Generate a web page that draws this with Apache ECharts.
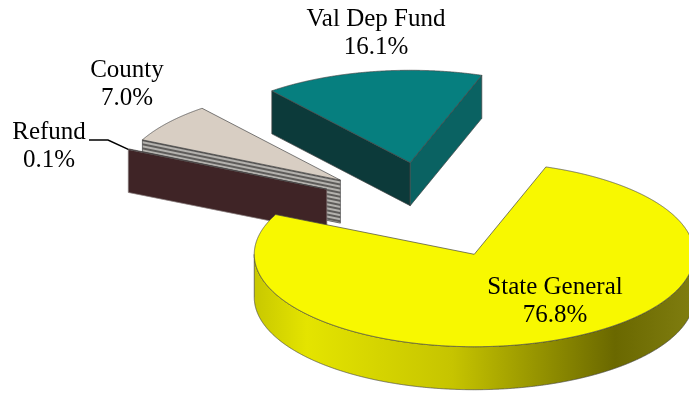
<!DOCTYPE html>
<html>
<head>
<meta charset="utf-8">
<script src="https://cdn.jsdelivr.net/npm/echarts@6/dist/echarts.min.js"></script>
<style>
  html, body { margin: 0; padding: 0; background: #ffffff; }
  #chart { width: 689px; height: 400px; }
</style>
</head>
<body>
<div id="chart"></div>
<script>
// Fund shares, in percent (clockwise order around the pie)
const categories = ['State General', 'Refund', 'County', 'Val Dep Fund'];
const shares = [76.8, 0.1, 7.0, 16.1];

// Disc geometry
const PIE_CENTER = [430, 210];
const PIE_RADIUS = 220;
const TILT = 0.42;        // vertical squash of the disc
const DEPTH = 43;         // disc thickness, px
const EXPLODE = 0.52;     // slice offset, as a fraction of the radius
const ROTATION = 19;      // first slice starts this many degrees clockwise from 12 o'clock

// Paint order: back slices first
const drawOrder = { 'Val Dep Fund': 0, 'County': 1, 'Refund': 2, 'State General': 3 };

// Label block centres and leader lines
const LABEL_FONT = '25px "Liberation Serif", "Times New Roman", serif';
const labelPos = {
  'Val Dep Fund': [376, 33],
  'County': [127, 84],
  'Refund': [49, 146],
  'State General': [555, 301]
};
const leaderStart = { 'Refund': [89, 140] };

// Striped fill used on the cut face of the County slice
function stripeCanvas() {
  const cv = document.createElement('canvas');
  cv.width = 4; cv.height = 4;
  const ctx = cv.getContext('2d');
  ctx.fillStyle = '#b4b2ae'; ctx.fillRect(0, 0, 4, 4);
  ctx.fillStyle = '#5e5c5a'; ctx.fillRect(0, 0, 4, 2);
  return cv;
}

const starts = [];
shares.reduce((acc, v, i) => { starts[i] = acc; return acc + v; }, 0);

const EDGE = '#454545';

function renderSlice(params, api) {
  const name = categories[params.dataIndex];
  const v0 = api.value(1);
  const share = api.value(2);
  const c = api.coord([0, 0]);
  const circ = (r, v) => { const p = api.coord([r, v]); return [p[0] - c[0], p[1] - c[1]]; };

  const e = circ(EXPLODE, v0 + share / 2);
  const apex = [c[0] + e[0], c[1] + e[1] * TILT];
  const rim = (v) => { const o = circ(1, v); return { o, p: [apex[0] + o[0], apex[1] + o[1] * TILT] }; };

  const n = Math.max(2, Math.ceil(share / 0.05));
  const samples = [];
  for (let k = 0; k <= n; k++) samples.push(rim(v0 + share * k / n));

  const order = drawOrder[name] * 10;
  const children = [];
  const down = (p) => [p[0], p[1] + DEPTH];

  // colours per slice
  let topFill, startFill, endFill, rimFill;
  if (name === 'State General') {
    topFill = '#f8f800';
    rimFill = new echarts.graphic.LinearGradient(apex[0] - PIE_RADIUS, 0, apex[0] + PIE_RADIUS, 0, [
      { offset: 0, color: '#c8c800' },
      { offset: 0.12, color: '#e4e400' },
      { offset: 0.45, color: '#c6c400' },
      { offset: 0.82, color: '#6a6800' },
      { offset: 1, color: '#807e10' }
    ], true);
  } else if (name === 'Val Dep Fund') {
    topFill = '#067f7f'; startFill = '#0c3a3a'; endFill = '#0a6262'; rimFill = '#0a5050';
  } else if (name === 'County') {
    topFill = '#d8cec3';
    const first = samples[0].p;
    startFill = { image: stripeCanvas(), repeat: 'repeat',
      rotation: Math.atan2(first[1] - apex[1], first[0] - apex[0]) + Math.PI };
    endFill = '#8a8580'; rimFill = '#8a8580';
  } else {
    topFill = '#5a3434'; startFill = '#3f2426'; endFill = '#3f2426'; rimFill = '#3f2426';
  }

  // outer curved side: only the part facing the viewer
  let run = [];
  const runs = [];
  samples.forEach(s => {
    if (s.o[1] >= 0) run.push(s.p);
    else if (run.length) { runs.push(run); run = []; }
  });
  if (run.length) runs.push(run);
  runs.forEach(r => {
    if (r.length < 2) return;
    children.push({
      type: 'polygon', z2: order + 1,
      shape: { points: r.concat(r.slice().reverse().map(down)) },
      style: { fill: rimFill, stroke: EDGE, lineWidth: 0.7 }
    });
  });

  // radial cut faces
  const sOut = samples[0], eOut = samples[samples.length - 1];
  if (sOut.o[0] < 0) {
    children.push({
      type: 'polygon', z2: order + 2,
      shape: { points: [apex, sOut.p, down(sOut.p), down(apex)] },
      style: { fill: startFill, stroke: name === 'Refund' ? '#8a8080' : EDGE, lineWidth: 0.7 }
    });
  }
  if (eOut.o[0] > 0) {
    children.push({
      type: 'polygon', z2: order + 2,
      shape: { points: [apex, eOut.p, down(eOut.p), down(apex)] },
      style: { fill: endFill, stroke: EDGE, lineWidth: 0.7 }
    });
  }

  // top face
  children.push({
    type: 'polygon', z2: order + 4,
    shape: { points: [apex].concat(samples.map(s => s.p)) },
    style: { fill: topFill, stroke: EDGE, lineWidth: 0.7 }
  });

  // label: name and share
  const lp = labelPos[name];
  children.push({
    type: 'text', z2: 100,
    style: {
      text: name + '\n' + share.toFixed(1) + '%',
      x: lp[0], y: lp[1],
      font: LABEL_FONT, fill: '#000000',
      align: 'center', verticalAlign: 'middle', lineHeight: 28
    }
  });

  // leader line from label to slice corner
  if (leaderStart[name]) {
    const a = leaderStart[name];
    children.push({
      type: 'polyline', z2: 100,
      shape: { points: [a, [a[0] + 19, a[1]], sOut.p] },
      style: { fill: null, stroke: '#000000', lineWidth: 1.5 }
    });
  }

  return { type: 'group', children };
}

const chart = echarts.init(document.getElementById('chart'), null, { renderer: 'canvas' });
chart.setOption({
  animation: false,
  backgroundColor: '#ffffff',
  polar: { center: PIE_CENTER, radius: PIE_RADIUS },
  angleAxis: { type: 'value', min: 0, max: 100, startAngle: 90 - ROTATION, clockwise: true, show: false },
  radiusAxis: { type: 'value', min: 0, max: 1, show: false },
  series: [{
    type: 'custom',
    coordinateSystem: 'polar',
    renderItem: renderSlice,
    data: shares.map((v, i) => ({ name: categories[i], value: [1, starts[i], v] }))
  }]
});
</script>
</body>
</html>
